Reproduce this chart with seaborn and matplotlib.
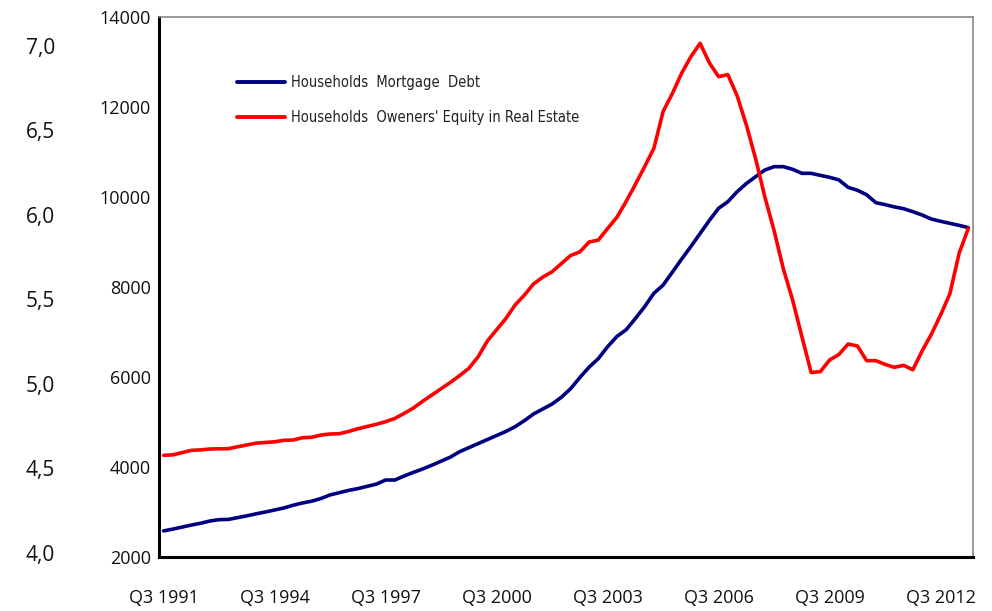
import matplotlib
matplotlib.use("Agg")
import matplotlib.pyplot as plt
import seaborn as sns
import pandas as pd
import numpy as np

# ---- data ----
quarters = [f"Q{((2 + i) % 4) + 1} {1991 + (2 + i) // 4}" for i in range(88)]  # Q3 1991 .. Q2 2013

mortgage_debt = [
    2580, 2620, 2665, 2710, 2750, 2800, 2830, 2835, 2875, 2915,
    2960, 3000, 3045, 3090, 3150, 3200, 3240, 3300, 3380, 3430,
    3480, 3520, 3570, 3620, 3711, 3711, 3800, 3880, 3956, 4040,
    4130, 4220, 4340, 4430, 4520, 4610, 4700, 4790, 4896, 5030,
    5180, 5290, 5400, 5550, 5740, 5990, 6220, 6410, 6674, 6900,
    7050, 7300, 7563, 7860, 8044, 8330, 8620, 8900, 9190, 9480,
    9750, 9896, 10118, 10300, 10452, 10600, 10674, 10674, 10615, 10526,
    10526, 10480, 10437, 10380, 10215, 10150, 10050, 9874, 9830, 9780,
    9740, 9674, 9600, 9510, 9460, 9415, 9370, 9319,
]

owners_equity = [
    4260, 4270, 4320, 4370, 4380, 4400, 4405, 4407, 4450, 4490,
    4530, 4545, 4560, 4593, 4600, 4650, 4660, 4710, 4733, 4740,
    4790, 4850, 4900, 4950, 5007, 5080, 5190, 5310, 5460, 5600,
    5740, 5880, 6030, 6193, 6450, 6800, 7050, 7300, 7600, 7820,
    8070, 8220, 8340, 8520, 8700, 8780, 9000, 9044, 9300, 9549,
    9900, 10280, 10674, 11082, 11900, 12300, 12750, 13118, 13415, 12980,
    12674, 12720, 12250, 11600, 10850, 10000, 9250, 8400, 7711, 6900,
    6100, 6120, 6378, 6500, 6733, 6690, 6363, 6363, 6280, 6215,
    6259, 6160, 6580, 6950, 7380, 7850, 8750, 9304,
]

series_names = ["Households  Mortgage  Debt",
                "Households  Oweners' Equity in Real Estate"]
series_colors = ["#000080", "#FF0000"]

outer_ticks = [4.0, 4.5, 5.0, 5.5, 6.0, 6.5, 7.0]
outer_labels = ["4,0", "4,5", "5,0", "5,5", "6,0", "6,5", "7,0"]
inner_ticks = [2000, 4000, 6000, 8000, 10000, 12000, 14000]
xtick_labels = ["Q3 1991", "Q3 1994", "Q3 1997", "Q3 2000",
                "Q3 2003", "Q3 2006", "Q3 2009", "Q3 2012"]

# ---- long-form table ----
idx = np.arange(len(quarters))
df = pd.concat([
    pd.DataFrame({"i": idx, "quarter": quarters, "value": mortgage_debt, "series": series_names[0]}),
    pd.DataFrame({"i": idx, "quarter": quarters, "value": owners_equity, "series": series_names[1]}),
])

sns.set_style("white")
plt.rcParams["font.family"] = ["Open Sans", "DejaVu Sans"]

W, H = 992, 611
fig = plt.figure(figsize=(W / 100, H / 100), dpi=100)
left_px, right_px, top_px, bottom_px = 159, 973, 17, 557
ax = fig.add_axes([left_px / W, 1 - bottom_px / H,
                   (right_px - left_px) / W, (bottom_px - top_px) / H])

sns.lineplot(data=df, x="i", y="value", hue="series", palette=series_colors,
             linewidth=2.6, ax=ax, legend=True)

ax.set_xlim(-0.5, len(quarters) - 0.5)
ax.set_ylim(2000, 14000)
ax.set_xticks([quarters.index(q) for q in xtick_labels])
ax.set_xticklabels(xtick_labels)
ax.set_yticks(inner_ticks)
ax.set_yticklabels([str(t) for t in inner_ticks])
ax.set_xlabel("")
ax.set_ylabel("")
ax.tick_params(axis="x", length=0, pad=23, labelsize=13, colors="#111111")
ax.tick_params(axis="y", length=0, pad=6, labelsize=13, colors="#111111")

for s in ["left", "bottom"]:
    ax.spines[s].set_color("black")
    ax.spines[s].set_linewidth(2.2)
for s in ["top", "right"]:
    ax.spines[s].set_color("#888888")
    ax.spines[s].set_linewidth(1.2)

leg = ax.legend(loc="upper left", bbox_to_anchor=((237 - left_px) / (right_px - left_px),
                                                   (bottom_px - 75) / (bottom_px - top_px)),
                frameon=False, borderpad=0, borderaxespad=0, handlelength=3.3,
                handletextpad=0.4, labelspacing=1.35,
                prop={"family": "DejaVu Sans", "stretch": "condensed", "size": 10.5})
for line in leg.get_lines():
    line.set_linewidth(2.8)
for t in leg.get_texts():
    t.set_color("#222222")

# outer (secondary) scale on the far left
ax2 = ax.twinx()
ax2.set_ylim(4.0 - (557 - 553) / 169.0, 7.0 + (46 - 17) / 169.0)
ax2.yaxis.tick_left()
ax2.spines["left"].set_position(("outward", 75))
for s in ax2.spines.values():
    s.set_visible(False)
ax2.set_yticks(outer_ticks)
ax2.set_yticklabels(outer_labels)
ax2.tick_params(axis="y", length=0, pad=0, labelsize=15, colors="#111111")
ax2.set_ylabel("")

fig.savefig("out.png", dpi=100)
